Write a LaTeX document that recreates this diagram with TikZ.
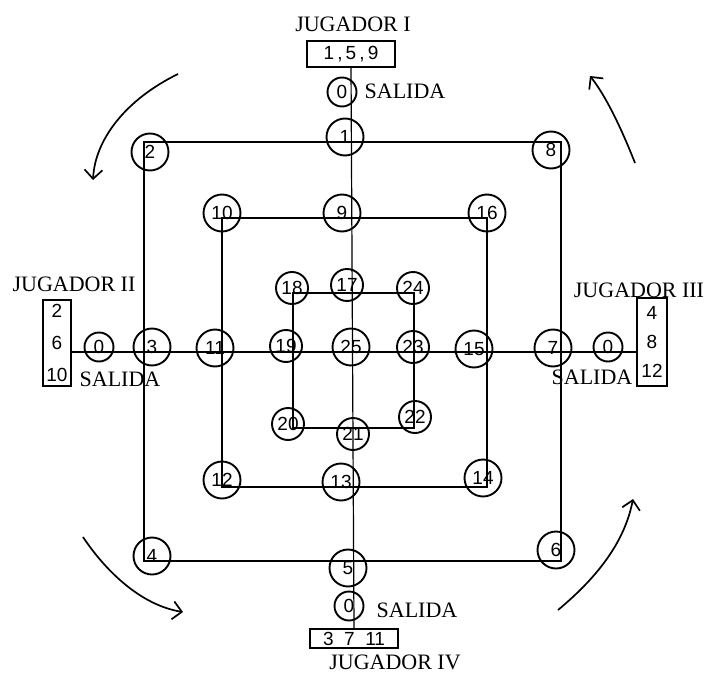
\documentclass[tikz,border=0pt]{standalone}
\usepackage{fontspec}
\setmainfont{Liberation Serif}
\newfontfamily\hand{Liberation Sans}
\usetikzlibrary{arrows.meta}
\begin{document}
\begin{tikzpicture}[x=1pt,y=-1pt,
  ln/.style={line width=1.2pt},
  nd/.style={circle, draw, line width=1.9pt, minimum size=37pt, inner sep=0pt, font=\hand\fontsize{19}{19}\selectfont},
  sm/.style={nd, minimum size=32pt},
  zr/.style={nd, minimum size=29pt},
  lab/.style={inner sep=0pt, font=\fontsize{22}{24}\selectfont},
  bx/.style={draw, line width=1.2pt, inner sep=0pt, font=\hand\fontsize{19}{19}\selectfont},
  arr/.style={line width=1.7pt, -{Straight Barb[length=9pt,width=18pt]}}
]
\useasboundingbox (0,0) rectangle (708,679);
% corner coordinates
\coordinate (oTL) at (144,142); \coordinate (oTR) at (561,142);
\coordinate (oBR) at (561,561); \coordinate (oBL) at (144,561);
\coordinate (mTL) at (222,218); \coordinate (mTR) at (487,218);
\coordinate (mBR) at (487,487); \coordinate (mBL) at (222,487);
\coordinate (iTL) at (293,293); \coordinate (iTR) at (414,293);
\coordinate (iBR) at (414,428); \coordinate (iBL) at (293,428);
\coordinate (hc) at (351,352);
% boxes
\node[bx, minimum width=88pt, minimum height=26pt] (bT) at (351,54) {1\,,\,5\,,\,9};
\node[bx, minimum width=28pt, minimum height=86pt, align=center, font=\hand\fontsize{19}{32}\selectfont] (bL) at (57,343) {2\\6\\10};
\node[bx, minimum width=30pt, minimum height=88pt, align=center, font=\hand\fontsize{19}{29}\selectfont] (bR) at (652,342) {4\\8\\12};
\node[bx, minimum width=88pt, minimum height=19pt] (bB) at (354,638.5) {3\ \ 7\ \ 11};
% lines
\draw[ln] (oTL) -- (oTR) -- (oBR) -- (oBL) -- cycle;
\draw[ln] (mTL) -- (mTR) -- (mBR) -- (mBL) -- cycle;
\draw[ln] (iTL) -- (iTR) -- (iBR) -- (iBL) -- cycle;
\draw[ln] (bT.south) -- (bB.north);
\draw[ln] (hc -| bL.east) -- (hc -| bR.west);
% nodes
\node[nd] (n1) at (345,137) {1};
\node[nd] (n2) at (150,152) {2};
\node[nd] (n8) at (551,150) {8};
\node[nd] (n10) at (222,213) {10};
\node[nd] (n9) at (342,213) {9};
\node[nd] (n16) at (487,213) {16};
\node[sm] (n18) at (292,288) {18};
\node[sm] (n17) at (347,285) {17};
\node[sm] (n24) at (413,288) {24};
\node[zr] (z2) at (99,347) {0};
\node[nd] (n3) at (152,347) {3};
\node[nd] (n11) at (215,348) {11};
\node[sm] (n19) at (286,346) {19};
\node[nd] (n25) at (351,347) {25};
\node[sm] (n23) at (413,347) {23};
\node[nd] (n15) at (474,349) {15};
\node[nd] (n7) at (553,348) {7};
\node[zr] (z3) at (608,347) {0};
\node[sm] (n20) at (288,424) {20};
\node[sm] (n21) at (353,434) {21};
\node[sm] (n22) at (415,417) {22};
\node[nd] (n12) at (222,480) {12};
\node[nd] (n13) at (341,482) {13};
\node[nd] (n14) at (483,478) {14};
\node[nd] (n4) at (152,556) {4};
\node[nd] (n5) at (348,568) {5};
\node[nd] (n6) at (556,550) {6};
\node[zr] (z1) at (342,92) {0};
\node[zr] (z4) at (349,606) {0};
% labels
\node[lab] (j1) at (353,24) {JUGADOR I};
\node[lab] (j2) at (74,284) {JUGADOR II};
\node[lab] (j3) at (639,290) {JUGADOR III};
\node[lab] (j4) at (395,662) {JUGADOR IV};
\node[lab] (s1) at (405,91) {SALIDA};
\node[lab] (s2) at (120,379) {SALIDA};
\node[lab] (s3) at (592,377) {SALIDA};
\node[lab] (s4) at (417,610) {SALIDA};
% rotation arrows
\coordinate (a1s) at (178,74); \coordinate (a1e) at (93,180);
\coordinate (a2s) at (635,163); \coordinate (a2e) at (590,76);
\coordinate (a3s) at (83,537); \coordinate (a3e) at (183,612);
\coordinate (a4s) at (558,610); \coordinate (a4e) at (633,499);
\draw[arr] (a1s) .. controls (125,100) and (95,140) .. (a1e);
\draw[arr] (a2s) .. controls (620,125) and (605,95) .. (a2e);
\draw[arr] (a3s) .. controls (105,570) and (140,605) .. (a3e);
\draw[arr] (a4s) .. controls (600,575) and (625,540) .. (a4e);
\end{tikzpicture}
\end{document}
